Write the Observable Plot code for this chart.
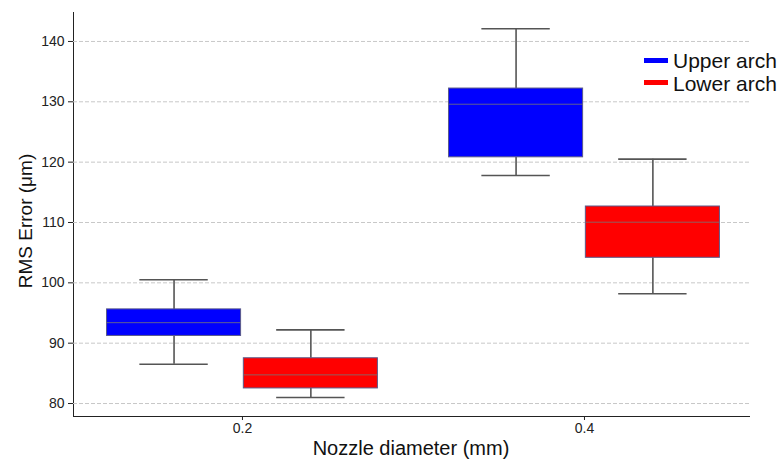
<!DOCTYPE html>
<html>
<head>
<meta charset="utf-8">
<script src="https://cdn.jsdelivr.net/npm/d3@7"></script>
<script src="https://cdn.jsdelivr.net/npm/@observablehq/plot@0.6"></script>
<style>
  html, body { margin: 0; padding: 0; background: #fff; }
  #wrap { position: relative; width: 778px; height: 459px; font-family: "Liberation Sans", Arial, sans-serif; color: #111; }
  #chart svg { display: block; }
  .lbl { position: absolute; white-space: nowrap; line-height: 1; }
  .sw { position: absolute; width: 24px; height: 5px; }
</style>
</head>
<body>
<div id="wrap">
  <div id="chart"></div>
  <div class="lbl" id="xlabel" style="font-size:20px; left:411px; top:448px; transform: translate(-50%,-50%);">Nozzle diameter (mm)</div>
  <div class="lbl" id="ylabel" style="font-size:19px; left:25px; top:221px; transform: translate(-50%,-50%) rotate(-90deg);">RMS Error (μm)</div>
  <div id="legend"></div>
</div>
<script>
// ---- data ----
const diameters = ["0.2", "0.4"];
const arches = ["Upper arch", "Lower arch"];
const archColors = ["#0000ff", "#ff0000"];
const group = ["0.2", "0.2", "0.4", "0.4"];
const arch = ["Upper arch", "Lower arch", "Upper arch", "Lower arch"];
const whiskerLow = [86.5, 81.0, 117.8, 98.2];
const q1 = [91.2, 82.5, 120.8, 104.15];
const median = [93.4, 84.75, 129.6, 110.05];
const q3 = [95.6, 87.5, 132.2, 112.65];
const whiskerHigh = [100.5, 92.2, 142.1, 120.5];
const yTicks = [80, 90, 100, 110, 120, 130, 140];
const yDomain = [77.85, 144.8];
const xDomain = [-0.494, 1.4825];   // category axis limits (categories at 0, 1)

// seaborn-like dodge: group width 0.8, split between hues
const groupWidth = 0.8;
const hueWidth = groupWidth / arches.length;
const boxHalf = hueWidth * 0.49;
const capHalf = hueWidth * 0.25;

const rows = group.map((g, i) => {
  const xc = diameters.indexOf(g) + (arches.indexOf(arch[i]) + 0.5) * hueWidth - groupWidth / 2;
  return { group: g, arch: arch[i], xc, lo: whiskerLow[i], q1: q1[i], med: median[i], q3: q3[i], hi: whiskerHigh[i] };
});

const chart = Plot.plot({
  width: 778,
  height: 459,
  marginLeft: 73,
  marginRight: 29,
  marginTop: 12,
  marginBottom: 43,
  style: { fontFamily: "'Liberation Sans', Arial, sans-serif", fontSize: "14px", color: "#222", background: "#fff", overflow: "visible" },
  x: { type: "linear", domain: xDomain, ticks: diameters.map((d, i) => i), tickFormat: i => diameters[i], tickSize: 4, tickPadding: 3, label: null, line: true },
  y: { domain: yDomain, ticks: yTicks, tickSize: 5, tickPadding: 4, label: null, line: true },
  color: { domain: arches, range: archColors },
  marks: [
    Plot.ruleY(yTicks, { stroke: "#c8c8c8", strokeWidth: 1, strokeDasharray: "4,2" }),
    Plot.ruleX(rows, { x: "xc", y1: "lo", y2: "q1", stroke: "#555", strokeWidth: 1.6 }),
    Plot.ruleX(rows, { x: "xc", y1: "q3", y2: "hi", stroke: "#555", strokeWidth: 1.6 }),
    Plot.ruleY(rows, { y: "lo", x1: d => d.xc - capHalf, x2: d => d.xc + capHalf, stroke: "#555", strokeWidth: 1.6 }),
    Plot.ruleY(rows, { y: "hi", x1: d => d.xc - capHalf, x2: d => d.xc + capHalf, stroke: "#555", strokeWidth: 1.6 }),
    Plot.rectY(rows, { x1: d => d.xc - boxHalf, x2: d => d.xc + boxHalf, y1: "q1", y2: "q3", fill: "arch", stroke: "#5a5a8a", strokeWidth: 1 }),
    Plot.ruleY(rows, { y: "med", x1: d => d.xc - boxHalf, x2: d => d.xc + boxHalf, stroke: "#777", strokeOpacity: 0.8, strokeWidth: 1 })
  ]
});
document.getElementById("chart").appendChild(chart);

// legend
const legend = document.getElementById("legend");
arches.forEach((a, i) => {
  const cy = 60 + i * 22.7;
  const sw = document.createElement("div");
  sw.className = "sw";
  sw.style.left = "644px";
  sw.style.top = (cy - 2.5) + "px";
  sw.style.background = archColors[i];
  legend.appendChild(sw);
  const t = document.createElement("div");
  t.className = "lbl";
  t.style.fontSize = "21px";
  t.style.left = "673px";
  t.style.top = cy + "px";
  t.style.transform = "translateY(-50%)";
  t.textContent = a;
  legend.appendChild(t);
});
</script>
</body>
</html>
